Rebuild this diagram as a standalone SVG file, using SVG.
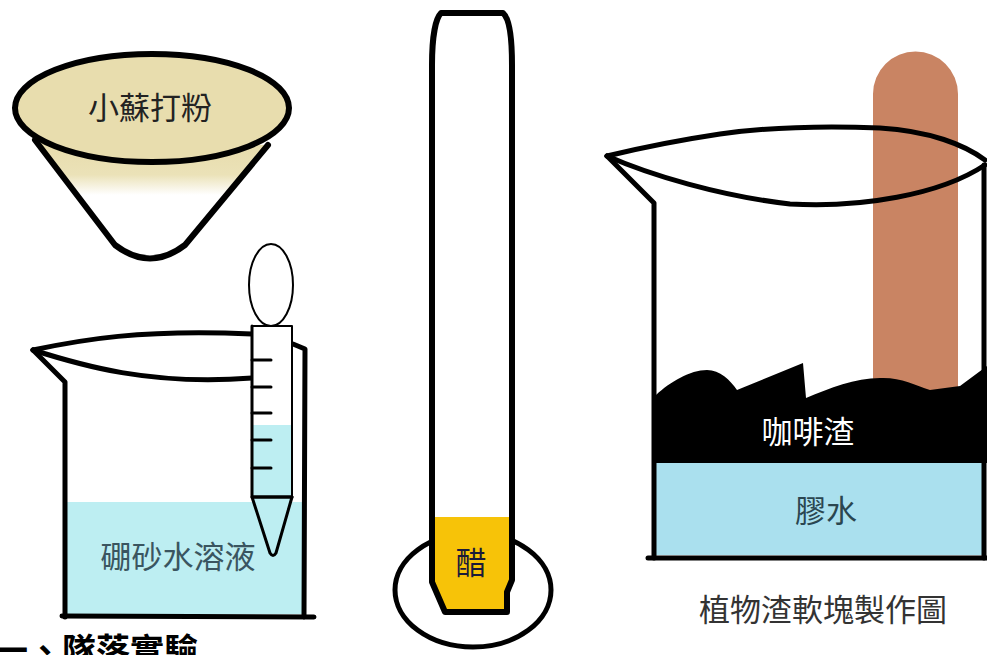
<svg xmlns="http://www.w3.org/2000/svg" width="987" height="655" viewBox="0 0 987 655">
  <defs>
    <linearGradient id="coneGrad" gradientUnits="userSpaceOnUse" x1="0" y1="150" x2="0" y2="195">
      <stop offset="0" stop-color="#e8ddae"/>
      <stop offset="0.55" stop-color="#ebe2b8"/>
      <stop offset="1" stop-color="#ffffff"/>
    </linearGradient>
  </defs>
  <style>
    .ink { fill: none; stroke: #000; stroke-linecap: round; stroke-linejoin: round; }
    .thick { stroke-width: 6; }
    .mid { stroke-width: 5; }
    .thin { stroke-width: 2; }
    .label { font-family: "Noto Sans CJK TC", "Noto Sans CJK SC", sans-serif; text-anchor: middle; }
  </style>

  <rect x="0" y="0" width="987" height="655" fill="#ffffff"/>

  <!-- baking soda funnel -->
  <g id="funnel">
    <path d="M35,140 L115,245 Q150,272 185,245 L268,145 Z" fill="url(#coneGrad)"/>
    <path class="ink thick" d="M35,140 L115,245 Q150,272 185,245 L268,145"/>
    <ellipse cx="152" cy="108" rx="137" ry="54" fill="#e8ddae" stroke="#000" stroke-width="6"/>
    <text class="label" x="150" y="119" font-size="31" fill="#222">小蘇打粉</text>
  </g>

  <!-- beaker of borax solution -->
  <g id="beaker-borax">
    <rect x="67" y="502" width="236" height="112" fill="#bdeef2"/>
    <path class="ink mid" d="M33,350 C80,340 140,329 252,334"/>
    <path class="ink mid" d="M33,350 C80,365 150,386 252,378"/>
    <path class="ink mid" d="M33,350 L65,382 L65,617"/>
    <path class="ink mid" d="M293,344 L305,349 L304,617"/>
    <path class="ink mid" d="M62,616 L314,617"/>
    <text class="label" x="178" y="568" font-size="31" fill="#3a5560">硼砂水溶液</text>
  </g>

  <!-- dropper -->
  <g id="dropper">
    <ellipse cx="271" cy="285" rx="22" ry="41" fill="#fff" stroke="#000" stroke-width="2"/>
    <rect x="252" y="326" width="40" height="171" fill="#fff"/>
    <rect x="252" y="425" width="40" height="72" fill="#bdeef2"/>
    <path d="M252,497 L270,553 Q273,558 276,553 L292,497 Z" fill="#bdeef2" stroke="#000" stroke-width="3" stroke-linejoin="round"/>
    <path class="ink" stroke-width="3" d="M252,326 L252,497 L292,497"/>
    <path class="ink thin" d="M252,326 L292,326 L292,497"/>
    <g class="ink" stroke-width="3">
      <path d="M252,360 H271"/>
      <path d="M252,387 H271"/>
      <path d="M252,413 H271"/>
      <path d="M252,440 H271"/>
      <path d="M252,468 H271"/>
    </g>
  </g>

  <!-- test tube of vinegar on its stand -->
  <g id="test-tube">
    <ellipse cx="473" cy="590" rx="78" ry="57" class="ink mid"/>
    <path d="M432,582 L432,65 C432,35 436,18 441,13 L503,13 C509,18 512,35 512,65 L512,580 L507,592 L507,612 L445,612 Z" fill="#fff"/>
    <path d="M432,517 L512,517 L512,580 L507,592 L507,612 L445,612 L432,582 Z" fill="#f7c308"/>
    <path class="ink thick" d="M432,582 L432,65 C432,35 436,18 441,13 L503,13 C509,18 512,35 512,65 L512,580 L507,592 L507,612 L445,612 Z"/>
    <text class="label" x="471" y="574" font-size="31" fill="#1a1a3a">醋</text>
  </g>

  <!-- beaker with stick, coffee grounds and glue -->
  <g id="beaker-glue">
    <path d="M873,395 L873,94 A42.5,42.5 0 0 1 958,94 L958,395 Z" fill="#c98463"/>
    <path class="ink mid" d="M607,156 C640,148 680,140 720,134 C770,127 830,126 880,128 C930,131 965,145 985,160"/>
    <path class="ink mid" d="M607,156 C650,175 720,196 790,204 C860,208 940,195 985,165"/>
    <path d="M656,395 C670,382 690,370 707,370 C720,370 730,380 737,390 L803,363 L806,398 C830,388 855,378 880,378 C900,377 915,385 930,390 L960,386 L987,366 L987,463 L656,463 Z" fill="#000"/>
    <rect x="656" y="463" width="328" height="92" fill="#aae0ee"/>
    <path class="ink mid" d="M607,156 L654,203 L654,558"/>
    <path class="ink mid" d="M984,165 L984,558"/>
    <path class="ink mid" d="M648,558 L987,558"/>
    <text class="label" x="808" y="443" font-size="31" fill="#ffffff">咖啡渣</text>
    <text class="label" x="826" y="522" font-size="31" fill="#2a4650">膠水</text>
  </g>

  <!-- captions -->
  <text class="label" x="823" y="621" font-size="31" fill="#333">植物渣軟塊製作圖</text>
  <text x="-6" y="663" font-size="34" font-weight="bold" fill="#000" font-family="Noto Sans CJK TC, Noto Sans CJK SC, sans-serif">一、隊落實驗</text>
</svg>
